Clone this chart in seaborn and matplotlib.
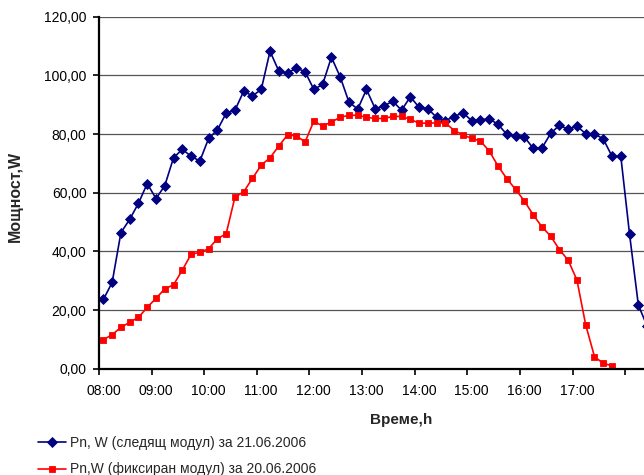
import matplotlib
matplotlib.use("Agg")
import matplotlib.pyplot as plt
from matplotlib.ticker import FixedLocator, FuncFormatter, NullFormatter
import numpy as np
import pandas as pd
import seaborn as sns

# Measurements every 10 minutes starting at 08:00
start_hour = 8
step_minutes = 10

tracking_power = [
    23.6, 29.4, 46.4, 50.9, 56.4, 63.1, 58.0, 62.4, 71.9, 74.8,
    72.4, 70.8, 78.5, 81.4, 87.1, 88.1, 94.6, 93.0, 95.2, 108.2,
    101.5, 100.7, 102.6, 101.2, 95.2, 96.9, 106.2, 99.5, 90.9, 88.5,
    95.2, 88.6, 89.6, 91.2, 88.1, 92.7, 89.1, 88.6, 85.7, 84.6,
    85.9, 87.3, 84.5, 84.8, 85.2, 83.3, 79.9, 79.3, 79.0, 75.2,
    75.2, 80.2, 83.0, 81.6, 82.7, 80.1, 80.1, 78.3, 72.4, 72.4,
    45.8, 21.7, 14.5,
]

fixed_power = [
    9.9, 11.6, 14.1, 15.8, 17.5, 20.9, 24.0, 27.2, 28.6, 33.6,
    39.0, 39.7, 40.9, 44.3, 46.0, 58.5, 60.3, 64.9, 69.4, 71.9,
    75.9, 79.7, 79.4, 77.3, 84.4, 82.7, 84.1, 85.7, 86.4, 86.4,
    85.7, 85.3, 85.3, 86.0, 86.0, 85.0, 83.7, 83.7, 83.8, 83.8,
    81.2, 79.7, 78.5, 77.6, 74.2, 69.1, 64.8, 61.1, 57.2, 52.5,
    48.4, 45.2, 40.6, 37.0, 30.2, 14.9, 4.1, 1.8, 1.0,
]

hour_labels = ["08:00", "09:00", "10:00", "11:00", "12:00",
               "13:00", "14:00", "15:00", "16:00", "17:00"]
y_ticks = [0, 20, 40, 60, 80, 100, 120]

label_tracking = "Pn, W (следящ модул) за 21.06.2006"
label_fixed = "Pn,W (фиксиран модул) за 20.06.2006"

step_h = step_minutes / 60.0
tracking_df = pd.DataFrame({
    "t": start_hour + np.arange(len(tracking_power)) * step_h,
    "p": tracking_power,
})
fixed_df = pd.DataFrame({
    "t": start_hour + np.arange(len(fixed_power)) * step_h,
    "p": fixed_power,
})

sns.set_theme(style="white")
plt.rcParams["font.family"] = ["Liberation Sans", "DejaVu Sans"]

W, H = 644, 475
fig = plt.figure(figsize=(W / 100, H / 100), dpi=100)
ax = fig.add_axes([99 / W, (H - 368.7) / H, 552.5 / W, 352 / H])

sns.lineplot(data=tracking_df, x="t", y="p", ax=ax, color="#000080",
             marker="D", markersize=5.5, markeredgewidth=0.6,
             markeredgecolor="#000080", linewidth=1.2,
             label=label_tracking)
sns.lineplot(data=fixed_df, x="t", y="p", ax=ax, color="#FF0000",
             marker="s", markersize=5.0, markeredgewidth=0.6,
             markeredgecolor="#FF0000", linewidth=1.2,
             label=label_fixed)

# category axis: tick marks between categories, labels on the hours
x_left = start_hour - step_h / 2
ax.set_xlim(x_left, x_left + len(tracking_power) * step_h)
ax.set_ylim(0, 120)

ax.xaxis.set_major_locator(FixedLocator([x_left + k for k in range(11)]))
ax.xaxis.set_major_formatter(NullFormatter())
ax.xaxis.set_minor_locator(FixedLocator([start_hour + k for k in range(len(hour_labels))]))
ax.xaxis.set_minor_formatter(FuncFormatter(lambda v, pos: hour_labels[int(round(v - start_hour))]))
ax.tick_params(axis="x", which="major", direction="out", length=4, width=1.2,
               color="black", bottom=True)
ax.tick_params(axis="x", which="minor", length=0, pad=11, labelsize=10, labelcolor="black")

ax.yaxis.set_major_locator(FixedLocator(y_ticks))
ax.yaxis.set_major_formatter(FuncFormatter(lambda v, pos: f"{v:.2f}".replace(".", ",")))
ax.tick_params(axis="y", direction="out", length=4, width=1.2, color="black",
               left=True, pad=5, labelsize=10, labelcolor="black")

ax.grid(axis="y", color="#555555", linewidth=0.9)
ax.grid(axis="x", visible=False)
ax.set_axisbelow(True)

for side in ("top", "right"):
    ax.spines[side].set_visible(False)
for side in ("left", "bottom"):
    ax.spines[side].set_color("black")
    ax.spines[side].set_linewidth(1.6)

ax.set_xlabel("")
ax.set_ylabel("")
fig.text(401 / W, 1 - 420 / H, "Време,h", ha="center", va="center",
         fontsize=11, fontweight="bold")
fig.text(15 / W, 1 - 196 / H, "Мощност,W", ha="center", va="center",
         rotation=90, fontsize=11.5, fontweight="bold")

ax.get_legend().remove()
handles, labels = ax.get_legend_handles_labels()
fig.legend(handles, labels, loc="upper left",
           bbox_to_anchor=(38 / W, 1 - 436 / H), frameon=False,
           borderpad=0, borderaxespad=0, handlelength=2.0,
           handletextpad=0.3, labelspacing=0.9, fontsize=10)

fig.savefig("out.png", dpi=100)
